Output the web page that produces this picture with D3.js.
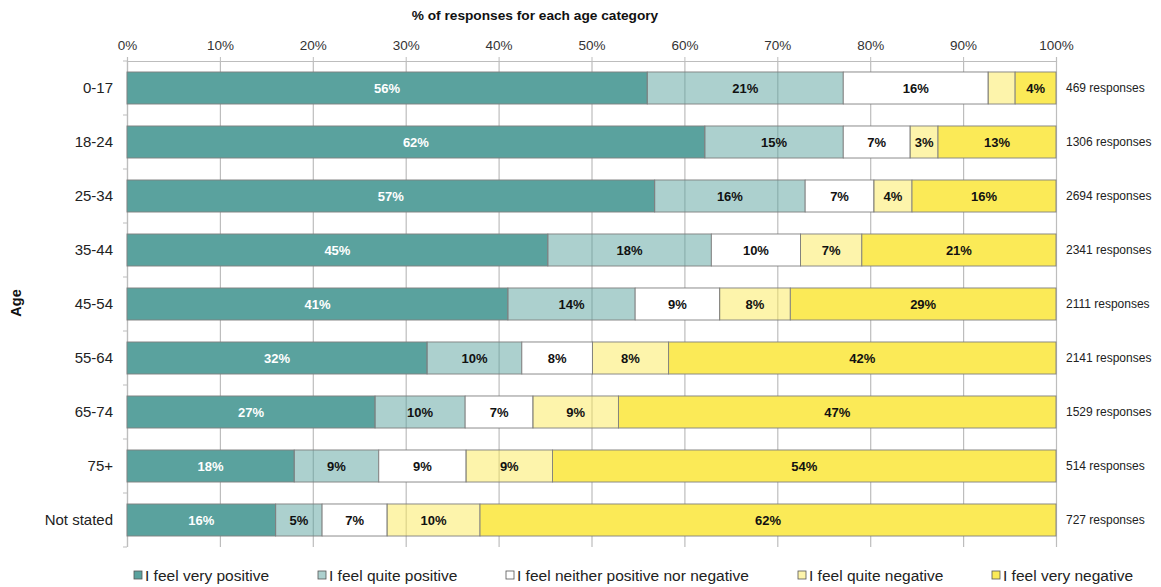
<!DOCTYPE html>
<html>
<head>
<meta charset="utf-8">
<script src="https://cdn.jsdelivr.net/npm/d3@7"></script>
<style>
  body { margin: 0; background: #fff; }
  svg text { font-family: "Liberation Sans", Arial, sans-serif; }
</style>
</head>
<body>
<div id="chart"></div>
<script>
// age groups, top to bottom
var ages = ["0-17", "18-24", "25-34", "35-44", "45-54", "55-64", "65-74", "75+", "Not stated"];
var responses = [469, 1306, 2694, 2341, 2111, 2141, 1529, 514, 727];

// % of responses per answer
var veryPositive  = [56.0, 62.2, 56.8, 45.3, 41.0, 32.3, 26.7, 18.0, 16.0];
var quitePositive = [21.1, 14.9, 16.2, 17.6, 13.7, 10.2, 9.7, 9.1, 5.0];
var neither       = [15.6, 7.2, 7.4, 9.6, 9.1, 7.6, 7.3, 9.4, 7.0];
var quiteNegative = [2.9, 3.0, 4.1, 6.6, 7.6, 8.2, 9.2, 9.3, 10.0];
var veryNegative  = [4.4, 12.7, 15.5, 20.9, 28.6, 41.7, 47.1, 54.2, 62.0];

var seriesNames = ["I feel very positive", "I feel quite positive", "I feel neither positive nor negative",
                   "I feel quite negative", "I feel very negative"];
var tickValues = [0, 10, 20, 30, 40, 50, 60, 70, 80, 90, 100];

var W = 1161, H = 587;
var plotLeft = 127, plotRight = 1056, plotTop = 61, plotBottom = 547;

// colours: light ones are the dark ones at half opacity, so gridlines show through
var fills = ["#5aa29e", "#5aa29e", "#ffffff", "#fbea57", "#fbea57"];
var fillOpacity = [1, 0.5, 1, 0.5, 1];
var labelColor = ["#ffffff", "#111", "#111", "#111", "#111"];

var keys = ["vp", "qp", "ne", "qn", "vn"];
var rows = ages.map(function(a, i){
    return {age: a, vp: veryPositive[i], qp: quitePositive[i], ne: neither[i], qn: quiteNegative[i], vn: veryNegative[i]};
});
var stacked = d3.stack().keys(keys)(rows);

var x = d3.scaleLinear().domain([0, 100]).range([plotLeft, plotRight]);
var y = d3.scaleBand().domain(ages).range([plotTop, plotBottom]).paddingInner(0.407).paddingOuter(0.2035);

var svg = d3.select("#chart").append("svg")
    .attr("width", W)
    .attr("height", H);

// title
svg.append("text")
    .attr("x", 535).attr("y", 20)
    .attr("text-anchor", "middle")
    .style("font-size", "13.7px").style("font-weight", "bold").attr("fill", "#111")
    .text("% of responses for each age category");

// gridlines
svg.append("g").selectAll("line").data(tickValues).enter().append("line")
    .attr("x1", function(d){ return x(d) + 0.5; }).attr("x2", function(d){ return x(d) + 0.5; })
    .attr("y1", plotTop).attr("y2", plotBottom)
    .attr("stroke", "#bdbdbd").attr("stroke-width", 1.2);

// top axis
var xAxis = svg.append("g")
    .attr("transform", "translate(0," + plotTop + ")")
    .call(d3.axisTop(x).tickValues(tickValues).tickSize(4).tickPadding(7)
        .tickFormat(function(d){ return d + "%"; }));
xAxis.select(".domain").attr("stroke", "#bdbdbd").attr("stroke-width", 1.2);
xAxis.selectAll(".tick line").attr("stroke", "#bdbdbd");
xAxis.selectAll("text").style("font-size", "13.5px").attr("fill", "#333")
    .style("font-family", "'Liberation Sans', Arial, sans-serif");

// left axis line with ticks between groups
svg.append("line")
    .attr("x1", plotLeft + 0.5).attr("x2", plotLeft + 0.5).attr("y1", plotTop).attr("y2", plotBottom)
    .attr("stroke", "#bdbdbd").attr("stroke-width", 1.2);
svg.append("g").selectAll("line").data(d3.range(ages.length + 1)).enter().append("line")
    .attr("x1", plotLeft - 4).attr("x2", plotLeft)
    .attr("y1", function(i){ return plotTop + i * y.step(); })
    .attr("y2", function(i){ return plotTop + i * y.step(); })
    .attr("stroke", "#bdbdbd");

// stacked bars
var layer = svg.append("g").selectAll("g").data(stacked).enter().append("g");
layer.selectAll("rect").data(function(s){ return s.map(function(d){ d.k = s.index; return d; }); })
    .enter().append("rect")
    .attr("x", function(d){ return x(d[0]); })
    .attr("y", function(d){ return y(d.data.age); })
    .attr("width", function(d){ return x(d[1]) - x(d[0]); })
    .attr("height", y.bandwidth())
    .attr("fill", function(d){ return fills[d.k]; })
    .attr("fill-opacity", function(d){ return fillOpacity[d.k]; })
    .attr("stroke", "#7f7f7f").attr("stroke-width", 0.9);

// value labels
layer.selectAll("text").data(function(s){ return s.filter(function(d){ return d[1] - d[0] >= 2.95; }); })
    .enter().append("text")
    .attr("x", function(d){ return (x(d[0]) + x(d[1])) / 2; })
    .attr("y", function(d){ return y(d.data.age) + y.bandwidth() / 2 + 4.5; })
    .attr("text-anchor", "middle")
    .style("font-size", "13px").style("font-weight", "bold")
    .attr("fill", function(d){ return labelColor[d.k]; })
    .text(function(d){ return Math.round(d[1] - d[0]) + "%"; });

// category labels
svg.append("g").selectAll("text").data(ages).enter().append("text")
    .attr("x", 113).attr("y", function(d){ return y(d) + y.bandwidth() / 2 + 5; })
    .attr("text-anchor", "end")
    .style("font-size", "15px").attr("fill", "#222")
    .text(function(d){ return d; });

// responses count on the right
svg.append("g").selectAll("text").data(responses).enter().append("text")
    .attr("x", 1066).attr("y", function(d, i){ return y(ages[i]) + y.bandwidth() / 2 + 4; })
    .style("font-size", "12px").attr("fill", "#222")
    .text(function(d){ return d + " responses"; });

// y axis title
svg.append("text")
    .attr("transform", "translate(21," + 303 + ") rotate(-90)")
    .attr("text-anchor", "middle")
    .style("font-size", "14.5px").style("font-weight", "bold").attr("fill", "#111")
    .text("Age");

// legend
var legendX = [134, 318, 506, 798, 992];
var legend = svg.append("g").selectAll("g").data(seriesNames).enter().append("g")
    .attr("transform", function(d, i){ return "translate(" + legendX[i] + ",575)"; });
legend.append("rect")
    .attr("x", 0).attr("y", -4).attr("width", 8).attr("height", 8)
    .attr("fill", function(d, i){ return fills[i]; })
    .attr("fill-opacity", function(d, i){ return fillOpacity[i]; })
    .attr("stroke", "#555").attr("stroke-width", 0.8);
legend.append("text")
    .attr("x", 11).attr("y", 5.5)
    .style("font-size", "15.5px").attr("fill", "#222")
    .text(function(d){ return d; });
</script>
</body>
</html>
